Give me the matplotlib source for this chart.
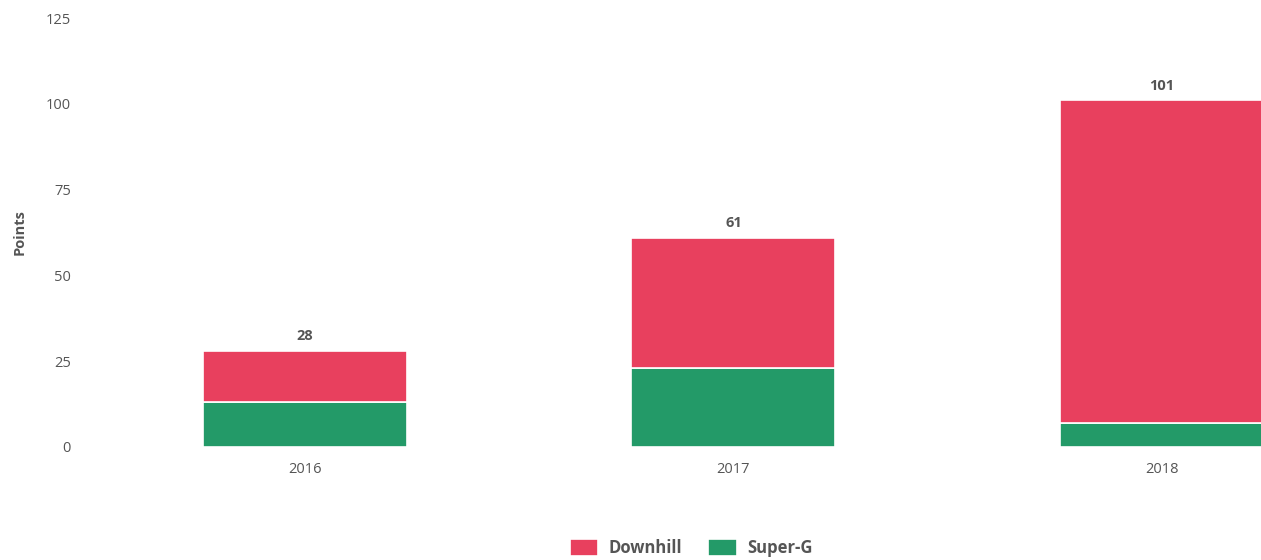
import matplotlib
matplotlib.use("Agg")
import matplotlib.pyplot as plt
import numpy as np

plt.rcParams['font.family'] = ['Open Sans', 'DejaVu Sans']

years = ["2016", "2017", "2018"]
super_g = [13, 23, 7]
downhill = [15, 38, 94]
totals = [28, 61, 101]
y_ticks = [0, 25, 50, 75, 100, 125]

red = "#e8405e"
green = "#239a68"
txt = "#555555"

fig = plt.figure(figsize=(12.61, 5.6), dpi=100)
ax = fig.add_axes([0.0674, 0.2018, 1 - 0.0674, 0.766])

x = np.arange(len(years))
w = 0.476
ax.bar(x, super_g, width=w, color=green, edgecolor="white", linewidth=1.2, label="Super-G", zorder=2)
ax.bar(x, downhill, width=w, bottom=super_g, color=red, edgecolor="white", linewidth=1.2, label="Downhill", zorder=2)

for xi, t in zip(x, totals):
    ax.text(xi, t + 2.2, str(t), ha="center", va="bottom", fontsize=10.5, color=txt, fontweight="bold")

ax.set_xlim(-0.513, 2.231)
ax.set_ylim(0, 125)
ax.set_yticks(y_ticks)
ax.set_yticklabels([str(v) for v in y_ticks])
ax.set_xticks(x)
ax.set_xticklabels(years)
ax.tick_params(axis="y", length=0, pad=10, labelsize=10.5, labelcolor=txt)
ax.tick_params(axis="x", length=0, pad=11, labelsize=10.5, labelcolor=txt)
for s in ax.spines.values():
    s.set_visible(False)
ax.set_ylabel("Points", fontsize=10.5, color=txt, fontweight="bold", labelpad=14)

handles, labels = ax.get_legend_handles_labels()
fig.legend([handles[1], handles[0]], [labels[1], labels[0]], loc="lower center",
           bbox_to_anchor=(0.548, -0.022), ncol=2, frameon=False,
           handlelength=1.7, handleheight=1.2, columnspacing=1.6, handletextpad=0.6,
           labelcolor=txt, prop={'weight': 'bold', 'size': 12})

fig.savefig("out.png", dpi=100, facecolor="white")
